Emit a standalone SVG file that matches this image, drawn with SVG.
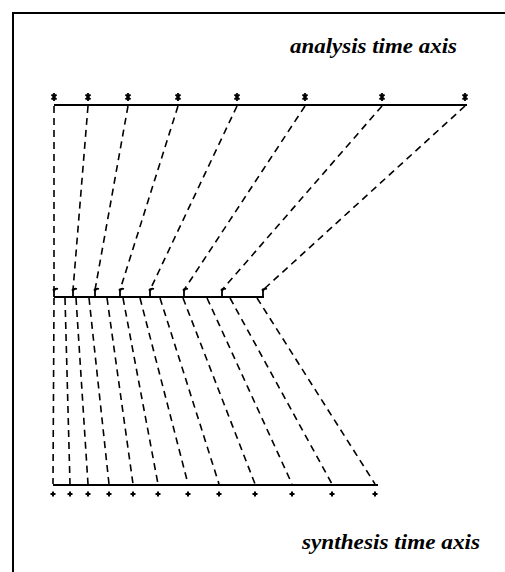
<svg xmlns="http://www.w3.org/2000/svg" width="505" height="572" viewBox="0 0 505 572">
<style>
.frame{fill:none;stroke:#000;stroke-width:2}
.axis{fill:none;stroke:#000;stroke-width:2}
.dash{fill:none;stroke:#000;stroke-width:1.6;stroke-dasharray:7 5}
.lbl{font-family:"Liberation Serif",serif;font-style:italic;font-weight:bold;font-size:21px;fill:#000}
</style>
<defs>
<g id="star"><path d="M0,-4V4M-2.5,-2.5L2.5,2.5M2.5,-2.5L-2.5,2.5" stroke="#000" stroke-width="1.8"/></g>
<g id="plus"><path d="M-2.5,0H2.5M0,-2.5V2.5" stroke="#000" stroke-width="2"/></g>
<g id="hook"><path d="M0,7V0.5Q1,-2 4,-1" fill="none" stroke="#000" stroke-width="1.8"/><circle cx="0" cy="0" r="1.4" fill="#000"/></g>
</defs>
<rect width="505" height="572" fill="#fff"/>
<g id="frame"><path class="frame" d="M13,572V13H505"/></g>
<g id="analysis-axis">
<line class="axis" x1="54" y1="105" x2="467" y2="105"/>
<use href="#star" x="54" y="97"/><use href="#star" x="88" y="97"/><use href="#star" x="128" y="97"/><use href="#star" x="178" y="97"/><use href="#star" x="237" y="97"/><use href="#star" x="305" y="97"/><use href="#star" x="382" y="97"/><use href="#star" x="465" y="97"/>
<text class="lbl" x="290" y="53" textLength="167" lengthAdjust="spacingAndGlyphs">analysis time axis</text>
</g>
<g id="middle-axis">
<line class="axis" x1="54" y1="297" x2="264" y2="297"/>
<use href="#hook" x="54" y="290"/><use href="#hook" x="73" y="290"/><use href="#hook" x="95" y="290"/><use href="#hook" x="120" y="290"/><use href="#hook" x="150" y="290"/><use href="#hook" x="184" y="290"/><use href="#hook" x="222" y="290"/><use href="#hook" x="263" y="290"/>
</g>
<g id="synthesis-axis">
<line class="axis" x1="53" y1="485" x2="378" y2="485"/>
<use href="#plus" x="53" y="494"/><use href="#plus" x="70" y="494"/><use href="#plus" x="88" y="494"/><use href="#plus" x="109" y="494"/><use href="#plus" x="133" y="494"/><use href="#plus" x="158" y="494"/><use href="#plus" x="188" y="494"/><use href="#plus" x="219" y="494"/><use href="#plus" x="255" y="494"/><use href="#plus" x="292" y="494"/><use href="#plus" x="332" y="494"/><use href="#plus" x="375" y="494"/>
<text class="lbl" x="302" y="549" textLength="178" lengthAdjust="spacingAndGlyphs">synthesis time axis</text>
</g>
<g id="connectors">
<line class="dash" x1="54" y1="106" x2="54" y2="290"/>
<line class="dash" x1="88" y1="106" x2="73" y2="290"/>
<line class="dash" x1="128" y1="106" x2="95" y2="290"/>
<line class="dash" x1="178" y1="106" x2="120" y2="290"/>
<line class="dash" x1="237" y1="106" x2="150" y2="290"/>
<line class="dash" x1="305" y1="106" x2="184" y2="290"/>
<line class="dash" x1="382" y1="106" x2="222" y2="290"/>
<line class="dash" x1="465" y1="106" x2="263" y2="290"/>
<line class="dash" x1="54" y1="298" x2="53" y2="484"/>
<line class="dash" x1="65" y1="298" x2="70" y2="484"/>
<line class="dash" x1="76" y1="298" x2="88" y2="484"/>
<line class="dash" x1="89" y1="298" x2="109" y2="484"/>
<line class="dash" x1="107" y1="298" x2="133" y2="484"/>
<line class="dash" x1="123" y1="298" x2="158" y2="484"/>
<line class="dash" x1="140" y1="298" x2="188" y2="484"/>
<line class="dash" x1="160" y1="298" x2="219" y2="484"/>
<line class="dash" x1="183" y1="298" x2="255" y2="484"/>
<line class="dash" x1="207" y1="298" x2="292" y2="484"/>
<line class="dash" x1="230" y1="298" x2="332" y2="484"/>
<line class="dash" x1="257" y1="298" x2="375" y2="484"/>
</g>
</svg>
